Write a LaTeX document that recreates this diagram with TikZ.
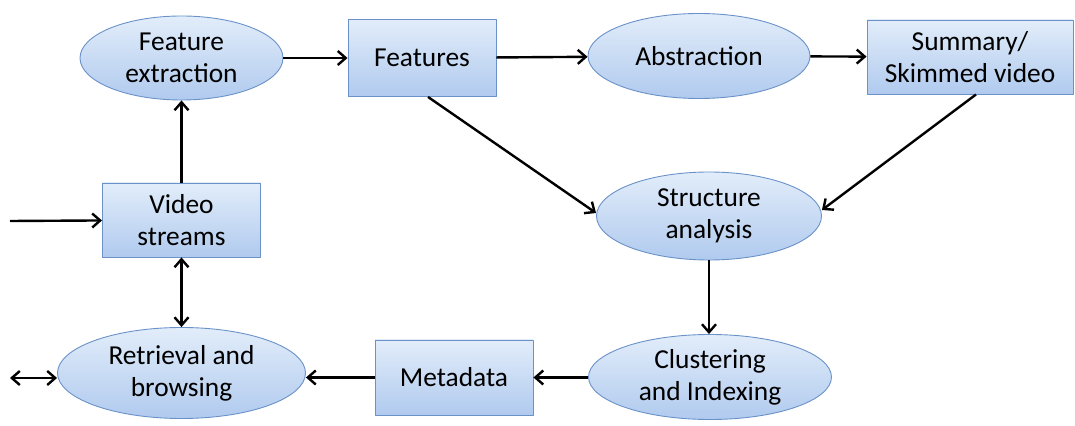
\documentclass[tikz,border=0pt]{standalone}
\usepackage{fontspec}
\setmainfont{Carlito}
\usetikzlibrary{shapes.geometric,arrows.meta}
\definecolor{boxtop}{HTML}{E2EDFA}
\definecolor{boxbot}{HTML}{B0CAEE}
\definecolor{boxline}{HTML}{6A92C8}
\begin{document}
\begin{tikzpicture}[>={Straight Barb[length=8bp,width=14bp]},line join=bevel,
  blk/.style={draw=boxline,line width=0.9bp,top color=boxtop,bottom color=boxbot,
    align=center,inner sep=0pt,font=\fontsize{27.5}{32}\selectfont},
  rbox/.style={blk,rectangle},
  oval/.style={blk,ellipse},
  flow/.style={black,line width=2.4bp}]
\useasboundingbox (0bp,0bp) rectangle (1075bp,426bp);
%%
\node (node_extract) at (181.5bp,368bp) [oval,minimum width=203bp,minimum height=84bp] {Feature\\extraction};
  \node (node_features) at (422bp,368bp) [rbox,minimum width=148bp,minimum height=77bp] {Features};
  \node (node_abstract) at (699bp,370bp) [oval,minimum width=222bp,minimum height=85bp] {Abstraction};
  \node (node_summary) at (970bp,369bp) [rbox,minimum width=206bp,minimum height=74bp] {Summary/\\Skimmed video};
  \node (node_video) at (181.5bp,206bp) [rbox,minimum width=158bp,minimum height=74bp] {Video\\streams};
  \node (node_structure) at (709bp,210bp) [oval,minimum width=225bp,minimum height=88bp] {Structure\\analysis};
  \node (node_retrieve) at (181.5bp,53bp) [oval,minimum width=248bp,minimum height=91bp] {Retrieval and\\browsing};
  \node (node_meta) at (454bp,48.5bp) [rbox,minimum width=158bp,minimum height=75bp] {Metadata};
  \node (node_cluster) at (710bp,49bp) [oval,minimum width=243bp,minimum height=85bp] {Clustering\\and Indexing};
  \coordinate (in_video) at (10bp,205bp);
  \coordinate (out_retrieve) at (10bp,48bp);
%
  \draw [flow,->] (node_extract) -- (node_features);
  \draw [flow,->] (node_features) -- (node_abstract);
  \draw [flow,->] (node_abstract) -- (node_summary);
  \draw [flow,->] (node_video) -- (node_extract);
  \draw [flow,->] (in_video) -- (node_video);
  \draw [flow,<->] (node_video) -- (node_retrieve);
  \draw [flow,<->] (out_retrieve) -- (node_retrieve.west |- out_retrieve);
  \draw [flow,->] ([xshift=6bp]node_features.south) -- ([yshift=3bp]node_structure.west);
  \draw [flow,->] ([xshift=6bp]node_summary.south) -- ([yshift=6bp]node_structure.east);
  \draw [flow,->] (node_structure) -- (node_structure |- node_cluster.north);
  \draw [flow,->] (node_cluster.west |- node_meta) -- (node_meta);
  \draw [flow,->] (node_meta) -- (node_retrieve.east |- node_meta);
%
\end{tikzpicture}
\end{document}
